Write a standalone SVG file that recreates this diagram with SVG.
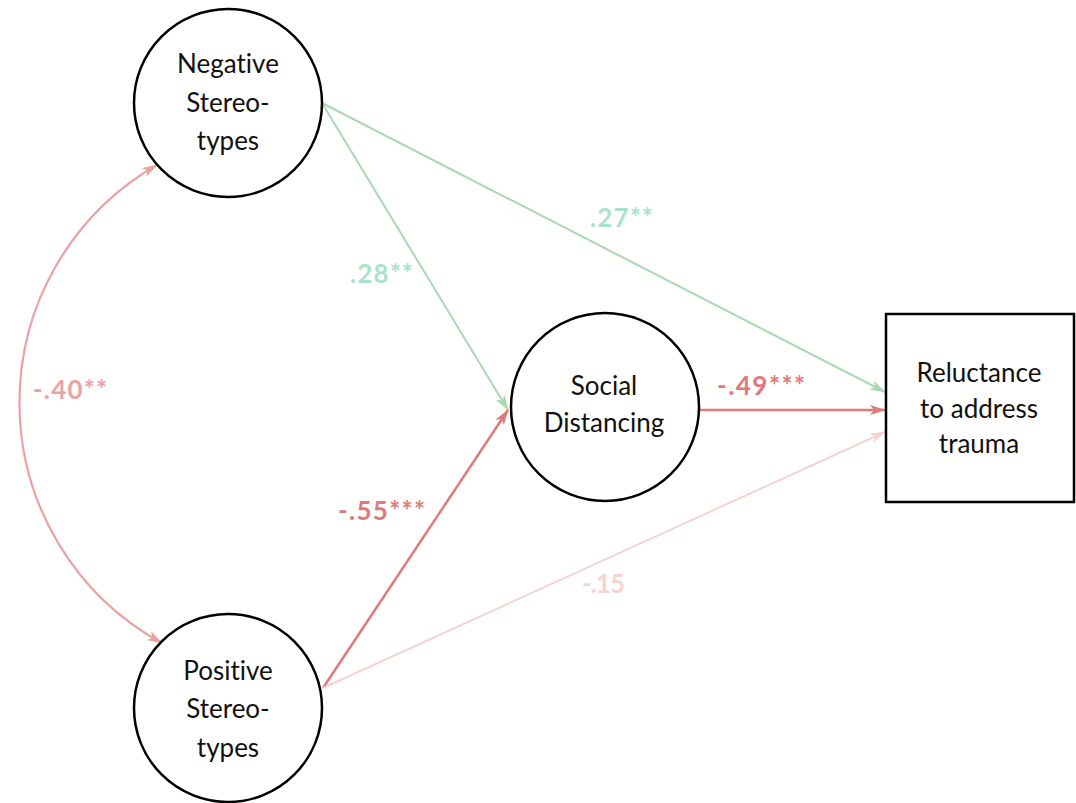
<svg xmlns="http://www.w3.org/2000/svg" width="1076" height="803" viewBox="0 0 1076 803">
<style>
.node{fill:#fff;stroke:#000;stroke-width:2.5}
.nt{font-family:Lato,"Open Sans",sans-serif;font-size:26px;fill:#111;text-anchor:middle;font-variant-ligatures:none}
.lbl{font-family:Lato,"Open Sans",sans-serif;font-size:26px;font-weight:bold}
.c{fill:none}
</style>
<defs>
<marker id="aG" markerUnits="userSpaceOnUse" viewBox="0 0 16 10" refX="15" refY="5" markerWidth="16" markerHeight="10" orient="auto"><path d="M0,0 L16,5 L0,10 L4,5 z" fill="#a9d8b1"/></marker>
<marker id="aR" markerUnits="userSpaceOnUse" viewBox="0 0 16 10" refX="15" refY="5" markerWidth="16" markerHeight="10" orient="auto"><path d="M0,0 L16,5 L0,10 L4,5 z" fill="#e07a7a"/></marker>
<marker id="aL" markerUnits="userSpaceOnUse" viewBox="0 0 16 10" refX="15" refY="5" markerWidth="16" markerHeight="10" orient="auto"><path d="M0,0 L16,5 L0,10 L4,5 z" fill="#e9a3a3"/></marker>
<marker id="aP" markerUnits="userSpaceOnUse" viewBox="0 0 16 10" refX="15" refY="5" markerWidth="16" markerHeight="10" orient="auto"><path d="M0,0 L16,5 L0,10 L4,5 z" fill="#f6d3d3"/></marker>
<marker id="aLs" markerUnits="userSpaceOnUse" viewBox="0 0 16 10" refX="15" refY="5" markerWidth="16" markerHeight="10" orient="auto-start-reverse"><path d="M0,0 L16,5 L0,10 L4,5 z" fill="#e9a3a3"/></marker>
</defs>
<rect width="1076" height="803" fill="#fff"/>
<g id="connectors" class="c">
<path d="M157,165 A274,274 0 0 0 162,643" stroke="#e9a3a3" stroke-width="2.2" marker-start="url(#aLs)" marker-end="url(#aL)"/>
<line x1="322" y1="103" x2="508" y2="410" stroke="#a9d8b1" stroke-width="2" marker-end="url(#aG)"/>
<line x1="322" y1="103" x2="885" y2="392" stroke="#a9d8b1" stroke-width="2" marker-end="url(#aG)"/>
<line x1="699" y1="410" x2="885" y2="410" stroke="#e07a7a" stroke-width="2.5" marker-end="url(#aR)"/>
<line x1="323" y1="688" x2="508" y2="410" stroke="#e07a7a" stroke-width="2.5" marker-end="url(#aR)"/>
<line x1="323" y1="688" x2="885" y2="432" stroke="#f6d3d3" stroke-width="2" marker-end="url(#aP)"/>
</g>
<g id="labels">
<text class="lbl" x="33" y="399" fill="#e9a3a3" textLength="74">-.40**</text>
<text class="lbl" x="350" y="283" fill="#a8e3c9" textLength="63">.28**</text>
<text class="lbl" x="590" y="227" fill="#a8e3c9" textLength="63">.27**</text>
<text class="lbl" x="717" y="395" fill="#e07a7a" textLength="88">-.49***</text>
<text class="lbl" x="338" y="520" fill="#e07a7a" textLength="87">-.55***</text>
<text class="lbl" x="582" y="593" fill="#f6d3d3" textLength="43">-.15</text>
</g>
<g id="negative">
<circle class="node" cx="228" cy="103" r="94"/>
<text class="nt" x="228" y="73">Negative</text>
<text class="nt" x="228" y="112">Stereo-</text>
<text class="nt" x="228" y="150">types</text>
</g>
<g id="positive">
<circle class="node" cx="228" cy="708" r="94"/>
<text class="nt" x="228" y="680">Positive</text>
<text class="nt" x="228" y="718">Stereo-</text>
<text class="nt" x="228" y="757">types</text>
</g>
<g id="social">
<circle class="node" cx="605" cy="407" r="94"/>
<text class="nt" x="604" y="395">Social</text>
<text class="nt" x="604" y="432">Distancing</text>
</g>
<g id="reluctance">
<rect class="node" x="886" y="314" width="188" height="188"/>
<text class="nt" x="979" y="382">Reluctance</text>
<text class="nt" x="979" y="418">to address</text>
<text class="nt" x="979" y="453">trauma</text>
</g>
</svg>
